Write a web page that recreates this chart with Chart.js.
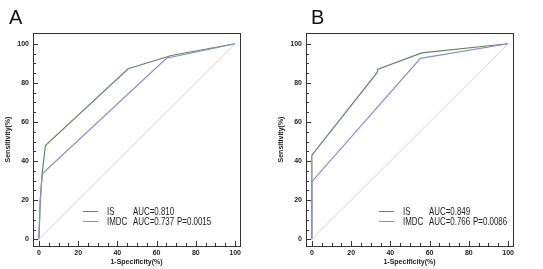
<!DOCTYPE html>
<html>
<head>
<meta charset="utf-8">
<script src="https://cdn.jsdelivr.net/npm/chart.js@4/dist/chart.umd.min.js"></script>
<style>
  body { margin: 0; background: #fff; width: 543px; height: 269px; overflow: hidden; position: relative; font-family: "Liberation Sans", Arial, sans-serif; }
  .panel { position: absolute; top: 0; width: 270px; height: 269px; }
  .panel canvas { position: absolute; left: 0; top: 0; }
  .letter { position: absolute; top: 6px; font-size: 20px; color: #111; }
  .legend { position: absolute; font-size: 11px; color: #222; line-height: 10px; }
  .legend .row { position: relative; height: 10px; white-space: nowrap; }
  .legend .swatch { position: absolute; left: 0; top: 5px; width: 15px; height: 0; border-top: 1px solid; }
  .legend span { position: absolute; top: 0; transform: scaleX(0.72); transform-origin: 0 0; }
</style>
</head>
<body>
<div class="panel" id="pa" style="left:0"><canvas id="chartA" width="270" height="269"></canvas></div>
<div class="panel" id="pb" style="left:273px"><canvas id="chartB" width="270" height="269"></canvas></div>
<div class="letter" style="left:9px">A</div>
<div class="letter" style="left:311px">B</div>

<script>
// ROC points, x = 1-Specificity(%), y = Sensitivity(%)
const isA_x   = [0, 0.7, 1.7, 3.3, 45.5, 67.5, 100];
const isA_y   = [0, 20, 34, 48, 87.2, 94, 100];
const imdcA_x = [0, 0.7, 1.7, 65, 100];
const imdcA_y = [0, 20, 33.5, 92.6, 100];

const isB_x   = [0, 0, 33.2, 33.7, 56, 100];
const isB_y   = [0, 43, 85.2, 87, 95.3, 100];
const imdcB_x = [0, 0, 55.3, 100];
const imdcB_y = [0, 29.5, 92.5, 100];

const refLine = [0, 100];
const tickVals = [0, 20, 40, 60, 80, 100];
const minorVals = [];
for (let v = 0; v <= 100; v += 5) minorVals.push(v);

const legendA = [['IS', 'AUC=0.810', ''], ['IMDC', 'AUC=0.737', 'P=0.0015']];
const legendB = [['IS', 'AUC=0.849', ''], ['IMDC', 'AUC=0.766', 'P=0.0086']];

const isColor = '#5b8a5b';
const imdcColor = '#8a8ad0';

function pts(xs, ys) {
    return xs.map((x, i) => ({ x: x, y: ys[i] }));
}

// frame + inward ticks
const framePlugin = {
    id: 'frame',
    afterDraw(chart) {
        const ctx = chart.ctx;
        const a = chart.chartArea;
        const xs = chart.scales.x, ys = chart.scales.y;
        ctx.save();
        ctx.strokeStyle = '#333';
        ctx.lineWidth = 1;
        ctx.strokeRect(a.left + 0.5, a.top + 0.5, a.right - a.left, a.bottom - a.top);
        ctx.beginPath();
        minorVals.forEach(v => {
            const len = v % 20 === 0 ? 5 : 3;
            const px = Math.round(xs.getPixelForValue(v)) + 0.5;
            ctx.moveTo(px, a.bottom);
            ctx.lineTo(px, a.bottom - len);
            const py = Math.round(ys.getPixelForValue(v)) + 0.5;
            ctx.moveTo(a.left, py);
            ctx.lineTo(a.left + len, py);
        });
        ctx.stroke();
        ctx.restore();
    }
};

const tickFont = { size: 7, weight: 'bold', family: 'Liberation Sans' };

function makeChart(id, isPts, imdcPts) {
    return new Chart(document.getElementById(id), {
        type: 'scatter',
        data: {
            datasets: [
                { data: pts(refLine, refLine), showLine: true, borderColor: '#d4d4d4', borderWidth: 1, pointRadius: 0 },
                { data: imdcPts, showLine: true, borderColor: imdcColor, borderWidth: 1.2, pointRadius: 0 },
                { data: isPts, showLine: true, borderColor: isColor, borderWidth: 1.2, pointRadius: 0 }
            ]
        },
        options: {
            responsive: false,
            animation: false,
            layout: { padding: { top: 33, right: 30, left: 4, bottom: 3 } },
            plugins: { legend: { display: false }, tooltip: { enabled: false } },
            scales: {
                x: {
                    type: 'linear', min: -3, max: 102.5,
                    afterBuildTicks: s => { s.ticks = tickVals.map(v => ({ value: v })); },
                    afterFit: s => { s.height = 20; },
                    grid: { display: false, drawTicks: false },
                    border: { display: false },
                    ticks: { padding: 3, maxRotation: 0, color: '#222', font: tickFont },
                    title: { display: true, text: '1-Specificity(%)', color: '#222', padding: 0, font: tickFont }
                },
                y: {
                    type: 'linear', min: -3.4, max: 105.5,
                    afterBuildTicks: s => { s.ticks = tickVals.map(v => ({ value: v })); },
                    afterFit: s => { s.width = 29; },
                    grid: { display: false, drawTicks: false },
                    border: { display: false },
                    ticks: { padding: 4, color: '#222', font: tickFont },
                    title: { display: true, text: 'Sensitivity(%)', color: '#222', padding: 0, font: tickFont }
                }
            }
        },
        plugins: [framePlugin]
    });
}

makeChart('chartA', pts(isA_x, isA_y), pts(imdcA_x, imdcA_y));
makeChart('chartB', pts(isB_x, isB_y), pts(imdcB_x, imdcB_y));

function addLegend(panelId, rows, left, top) {
    const box = document.createElement('div');
    box.className = 'legend';
    box.style.left = left + 'px';
    box.style.top = top + 'px';
    rows.forEach((r, i) => {
        const row = document.createElement('div');
        row.className = 'row';
        row.innerHTML = '<div class="swatch" style="border-color:' + (i === 0 ? isColor : imdcColor) + '"></div>' +
            '<span style="left:24px">' + r[0] + '</span>' +
            '<span style="left:50px">' + r[1] + '</span>' +
            '<span style="left:94px">' + r[2] + '</span>';
        box.appendChild(row);
    });
    document.getElementById(panelId).appendChild(box);
}
addLegend('pa', legendA, 83, 206);
addLegend('pb', legendB, 106, 206);
</script>
</body>
</html>
